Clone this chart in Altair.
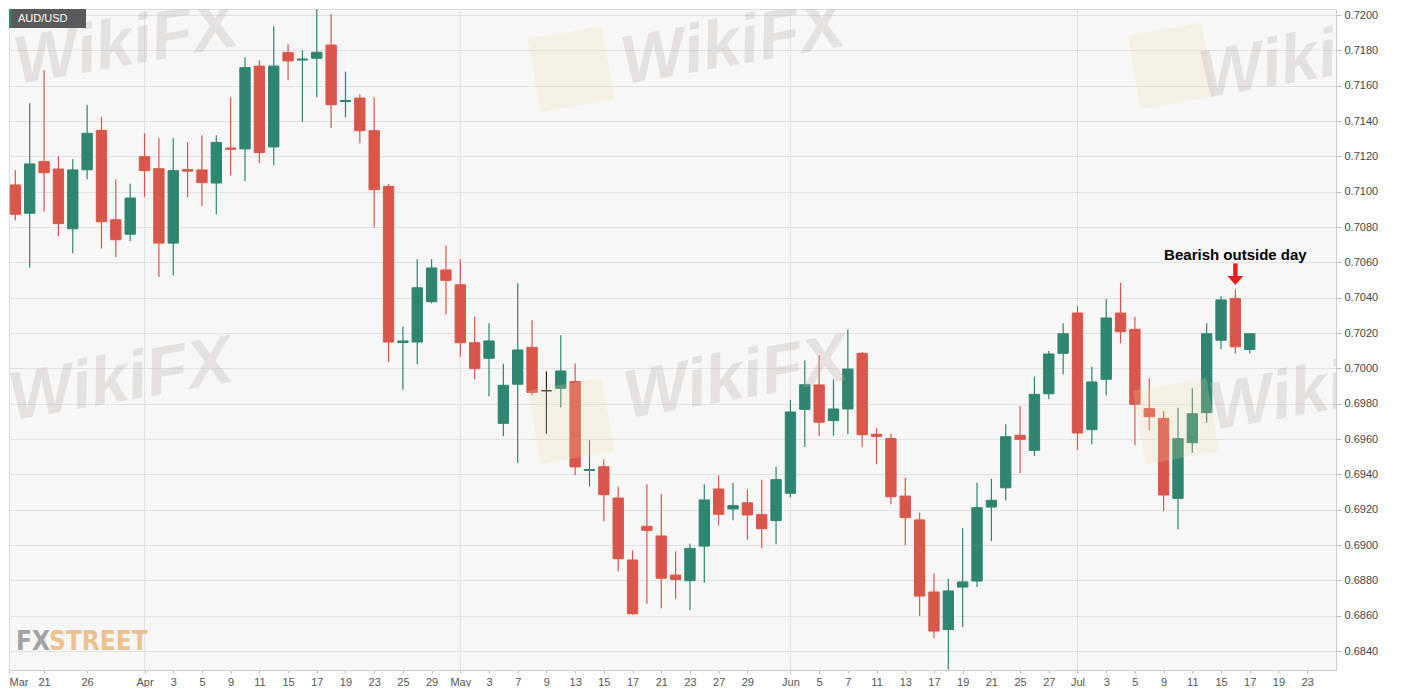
import altair as alt
import pandas as pd

# AUD/USD daily candles, business-day index 0 = 2019-03-18 ... 87 = 2019-07-17
day_index = list(range(88))
open_ = [0.70872, 0.71038, 0.70878, 0.71170, 0.71128, 0.70790, 0.71124, 0.71347, 0.70841, 0.70759,
         0.71198, 0.71130, 0.70709, 0.71125, 0.71123, 0.71049, 0.71247, 0.71242, 0.71711, 0.71253,
         0.71787, 0.71745, 0.71755, 0.71830, 0.71510, 0.71530, 0.71345, 0.71030, 0.70146, 0.70149,
         0.70377, 0.70557, 0.70473, 0.70145, 0.70057, 0.69689, 0.69910, 0.70119, 0.69873, 0.69887,
         0.69925, 0.69422, 0.69443, 0.69266, 0.68915, 0.69106, 0.69051, 0.68830, 0.68798, 0.68994,
         0.69317, 0.69204, 0.69239, 0.69172, 0.69138, 0.69293, 0.69768, 0.69906, 0.69704, 0.69770,
         0.70085, 0.69627, 0.69603, 0.69277, 0.69142, 0.68734, 0.68521, 0.68762, 0.68796, 0.69215,
         0.69324, 0.69621, 0.69536, 0.69856, 0.70085, 0.70313, 0.69653, 0.69938, 0.70313, 0.70221,
         0.69772, 0.69717, 0.69264, 0.69579, 0.69749, 0.70159, 0.70396, 0.70107]
high = [0.71202, 0.71121, 0.71500, 0.71687, 0.71201, 0.71183, 0.71492, 0.71424, 0.71070, 0.71045,
        0.71330, 0.71304, 0.71302, 0.71279, 0.71319, 0.71319, 0.71534, 0.71761, 0.71744, 0.71936,
        0.71834, 0.71800, 0.72064, 0.72004, 0.71679, 0.71551, 0.71534, 0.71043, 0.70236, 0.70617,
        0.70617, 0.70696, 0.70617, 0.70292, 0.70255, 0.70026, 0.70481, 0.70272, 0.69983, 0.70187,
        0.70027, 0.69593, 0.69485, 0.69330, 0.68970, 0.69344, 0.69289, 0.68964, 0.69007, 0.69344,
        0.69395, 0.69353, 0.69315, 0.69370, 0.69443, 0.69821, 0.70045, 0.70074, 0.69938, 0.70221,
        0.70092, 0.69664, 0.69631, 0.69381, 0.69183, 0.68840, 0.68809, 0.69095, 0.69353, 0.69375,
        0.69683, 0.69785, 0.69953, 0.70098, 0.70255, 0.70353, 0.70009, 0.70394, 0.70485, 0.70292,
        0.69945, 0.69759, 0.69777, 0.69887, 0.70255, 0.70408, 0.70447, 0.70196]
low = [0.70768, 0.70838, 0.70570, 0.70887, 0.70747, 0.70651, 0.71070, 0.70679, 0.70630, 0.70721,
       0.70970, 0.70517, 0.70527, 0.70968, 0.70917, 0.70872, 0.71093, 0.71059, 0.71161, 0.71149,
       0.71630, 0.71394, 0.71534, 0.71360, 0.71421, 0.71274, 0.70798, 0.70036, 0.69877, 0.70023,
       0.70368, 0.70306, 0.70066, 0.69938, 0.69842, 0.69615, 0.69464, 0.69847, 0.69630, 0.69779,
       0.69396, 0.69332, 0.69134, 0.68851, 0.68605, 0.68668, 0.68642, 0.68696, 0.68630, 0.68787,
       0.69112, 0.69140, 0.69030, 0.68981, 0.69004, 0.69268, 0.69555, 0.69617, 0.69619, 0.69627,
       0.69555, 0.69457, 0.69230, 0.68998, 0.68598, 0.68472, 0.68296, 0.68536, 0.68762, 0.69023,
       0.69253, 0.69406, 0.69504, 0.69825, 0.69966, 0.69539, 0.69570, 0.69847, 0.70142, 0.69564,
       0.69651, 0.69192, 0.69089, 0.69522, 0.69692, 0.70108, 0.70084, 0.70084]
close = [0.71045, 0.70872, 0.71157, 0.71107, 0.70819, 0.71123, 0.71330, 0.70830, 0.70728, 0.70964,
         0.71119, 0.70709, 0.71119, 0.71116, 0.71051, 0.71279, 0.71240, 0.71702, 0.71221, 0.71711,
         0.71740, 0.71751, 0.71789, 0.71492, 0.71516, 0.71345, 0.71011, 0.70149, 0.70155, 0.70456,
         0.70568, 0.70498, 0.70145, 0.69998, 0.70155, 0.69904, 0.70104, 0.69864, 0.69873, 0.69985,
         0.69442, 0.69427, 0.69285, 0.68922, 0.68611, 0.69083, 0.68812, 0.68804, 0.68981, 0.69255,
         0.69174, 0.69223, 0.69170, 0.69092, 0.69370, 0.69753, 0.69907, 0.69695, 0.69770, 0.69996,
         0.69624, 0.69615, 0.69273, 0.69155, 0.68711, 0.68513, 0.68740, 0.68791, 0.69211, 0.69253,
         0.69613, 0.69598, 0.69853, 0.70081, 0.70196, 0.69634, 0.69923, 0.70285, 0.70207, 0.69796,
         0.69726, 0.69283, 0.69602, 0.69743, 0.70196, 0.70387, 0.70122, 0.70196]

x_tick_idx = [0.557, 3, 6, 10, 12, 14, 16, 18, 20, 22, 24, 26, 28, 30, 32, 34, 36, 38, 40, 42, 44, 46,
              48, 50, 52, 55, 57, 59, 61, 63, 65, 67, 69, 71, 73, 75, 77, 79, 81, 83, 85, 87, 89, 91]
x_tick_labels = ["Mar", "21", "26", "Apr", "3", "5", "9", "11", "15", "17", "19", "23", "25", "29",
                 "May", "3", "7", "9", "13", "15", "17", "21", "23", "27", "29", "Jun", "5", "7",
                 "11", "13", "17", "19", "21", "25", "27", "Jul", "3", "5", "9", "11", "15", "17",
                 "19", "23"]
month_start_idx = [10, 32, 55, 75]
y_ticks = [0.684, 0.686, 0.688, 0.690, 0.692, 0.694, 0.696, 0.698, 0.700, 0.702, 0.704, 0.706,
           0.708, 0.710, 0.712, 0.714, 0.716, 0.718, 0.720]

annot_idx = [86]
annot_text = ["Bearish outside day"]
annot_text_price = [0.706132]
arrow_top = [0.70594]
arrow_bottom = [0.70517]
arrow_head = [0.704972]

GREEN = "#2e8571"
RED = "#d9574a"
FLAT = "#222222"
FONT = "Liberation Sans, Arial, Helvetica, sans-serif"
NARROW = "Liberation Sans Narrow, Arial Narrow, DejaVu Sans Condensed, sans-serif"

W, H = 1327, 661
x_dom = [0.557, 93.01]
y_dom = [0.682925, 0.72034]

df = pd.DataFrame({"i": day_index, "open": open_, "high": high, "low": low, "close": close})

xscale = alt.Scale(domain=x_dom, nice=False, zero=False)
yscale = alt.Scale(domain=y_dom, nice=False, zero=False)

idx_js = "[" + ",".join(str(v) for v in x_tick_idx) + "]"
lab_js = "[" + ",".join("'" + s + "'" for s in x_tick_labels) + "]"
label_expr = lab_js + "[indexof(" + idx_js + ", datum.value)]"

x_axis = alt.Axis(values=x_tick_idx, labelExpr=label_expr, grid=False, title=None,
                  labelFlush=True, labelOverlap=False, tickSize=3, labelPadding=3,
                  domainColor="#cccccc", tickColor="#bbbbbb", labelColor="#555555",
                  labelFontSize=11, labelFont=FONT, orient="bottom")
y_axis = alt.Axis(values=y_ticks, format=".4f", orient="right", grid=True, gridColor="#e2e2e2",
                  title=None, tickSize=5, labelPadding=3, domainColor="#cccccc",
                  tickColor="#bbbbbb", labelColor="#444444", labelFontSize=11, labelFont=FONT,
                  labelOverlap=False)


def X(field):
    return alt.X(field, type="quantitative", scale=xscale, axis=x_axis)


def Y(field):
    return alt.Y(field, type="quantitative", scale=yscale, axis=y_axis)


cscale = alt.Scale(domain=["up", "down", "flat"], range=[GREEN, RED, FLAT])

base = alt.Chart(df).transform_calculate(
    dir="datum.close > datum.open ? 'up' : (datum.close < datum.open ? 'down' : 'flat')",
    x0="datum.i - 0.36",
    x1="datum.i + 0.36",
)

wicks = base.mark_rule(strokeWidth=1.2, clip=True).encode(
    x=X("i"),
    y=Y("low"),
    y2="high:Q",
    color=alt.Color("dir:N", scale=cscale, legend=None),
)
bodies = base.mark_rect(clip=True, strokeWidth=1).encode(
    x=X("x0"),
    x2="x1:Q",
    y=Y("open"),
    y2="close:Q",
    color=alt.Color("dir:N", scale=cscale, legend=None),
    stroke=alt.Stroke("dir:N", scale=cscale, legend=None),
)

month_df = pd.DataFrame({"i": month_start_idx, "lo": [y_dom[0]] * 4, "hi": [y_dom[1]] * 4})
months = alt.Chart(month_df).mark_rule(color="#e2e2e2", strokeWidth=1).encode(
    x=X("i"), y=Y("lo"), y2="hi:Q")

one = pd.DataFrame({"a": [0]})

# watermark-like decorations
wm_layers = []
for cx, cy in [(562, 60), (1162, 57), (562, 412), (1167, 412)]:
    wm_layers.append(alt.Chart(one).mark_point(
        shape="square", filled=True, size=5600, color="#f1dca6", opacity=0.22,
        angle=350, clip=True).encode(x=alt.value(cx), y=alt.value(cy)))
for cx, cy in [(117, 36), (724, 36), (1302, 50), (112, 372), (727, 370), (1312, 382)]:
    wm_layers.append(alt.Chart(one).mark_text(
        text="WikiFX", font=FONT, fontSize=68, fontWeight="bold", fontStyle="italic",
        color="#b9afab", opacity=0.3, angle=350, align="center", baseline="middle",
        clip=True).encode(x=alt.value(cx), y=alt.value(cy)))

fx = alt.Chart(one).mark_text(
    text="FX", font=NARROW, fontSize=26, fontWeight="bold", color="#9b9b9b", align="left",
    baseline="alphabetic", opacity=0.9).encode(x=alt.value(7), y=alt.value(641))
street = alt.Chart(one).mark_text(
    text="STREET", font=NARROW, fontSize=26, fontWeight="bold", color="#ebbd85", align="left",
    baseline="alphabetic", opacity=0.9).encode(x=alt.value(40), y=alt.value(641))

box = alt.Chart(one).mark_rect(color="#5a5a5a").encode(
    x=alt.value(0), x2=alt.value(77), y=alt.value(0), y2=alt.value(19))
stripe = alt.Chart(one).mark_rect(color=GREEN).encode(
    x=alt.value(0), x2=alt.value(2.5), y=alt.value(0), y2=alt.value(19))
box_text = alt.Chart(one).mark_text(
    text="AUD/USD", font=FONT, fontSize=11, color="#ffffff", align="left",
    baseline="middle").encode(x=alt.value(9), y=alt.value(9.5))

ann_df = pd.DataFrame({"i": annot_idx, "t": annot_text, "p": annot_text_price,
                       "top": arrow_top, "bot": arrow_bottom, "head": arrow_head})
ann_text = alt.Chart(ann_df).mark_text(
    font=FONT, fontSize=15, fontWeight="bold", color="#000000", align="center",
    baseline="alphabetic").encode(x=X("i"), y=Y("p"), text="t:N")
arrow_shaft = alt.Chart(ann_df).mark_rule(color="#ee1c1c", strokeWidth=4.5).encode(
    x=X("i"), y=Y("top"), y2="bot:Q")
arrow_tip = alt.Chart(ann_df).mark_point(
    shape="M-1,-0.55L1,-0.55L0,0.55Z", filled=True, size=256, color="#ee1c1c",
    opacity=1).encode(x=X("i"), y=Y("head"))

chart = alt.layer(
    months, wicks, bodies, *wm_layers, fx, street, box, stripe, box_text,
    ann_text, arrow_shaft, arrow_tip
).properties(
    width=W, height=H, padding=0, background="#ffffff"
).configure_view(
    fill="#f7f7f7", stroke="#dddddd"
)

chart.save("out.html", embed_options={"renderer": "svg", "actions": False})
